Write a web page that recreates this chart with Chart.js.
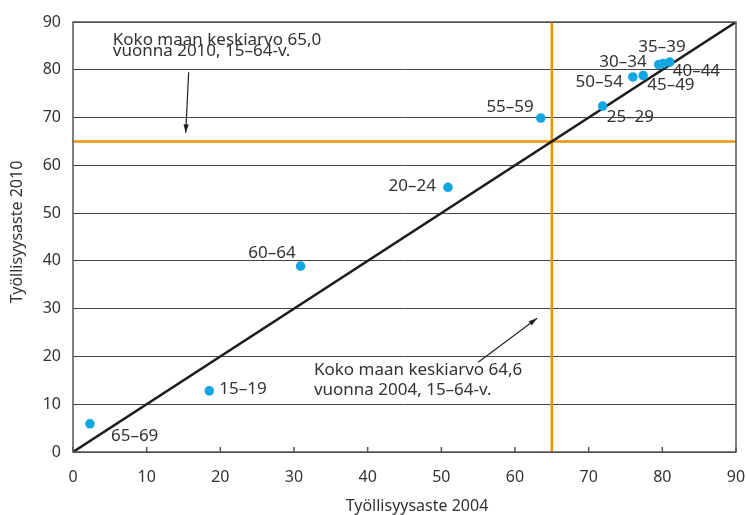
<!DOCTYPE html>
<html>
<head>
<meta charset="utf-8">
<script src="https://cdn.jsdelivr.net/npm/chart.js@4/dist/chart.umd.min.js"></script>
<style>
    body { margin: 0; background: #fff; }
    #wrap { width: 746px; height: 515px; }
</style>
</head>
<body>
<div id="wrap"><canvas id="employment_chart"></canvas></div>
<script>
// age groups and employment rates (%), 2004 vs 2010
const ageGroups = ["65–69", "15–19", "60–64", "20–24", "55–59", "25–29", "50–54", "45–49", "30–34", "35–39", "40–44"];
const rate2004 = [2.3, 18.5, 30.9, 50.9, 63.5, 71.9, 76.0, 77.4, 79.5, 80.1, 81.0];
const rate2010 = [5.9, 12.8, 38.9, 55.4, 69.9, 72.4, 78.5, 78.8, 81.1, 81.3, 81.6];

// national average lines (as drawn) and axis range
const avgLine2004 = 65;
const avgLine2010 = 65;
const axisMin = 0;
const axisMax = 90;
const tickValues = [0, 10, 20, 30, 40, 50, 60, 70, 80, 90];

const xTitle = "Työllisyysaste 2004";
const yTitle = "Työllisyysaste 2010";
const note2010 = ["Koko maan keskiarvo 65,0", "vuonna 2010, 15–64-v."];
const note2004 = ["Koko maan keskiarvo 64,6", "vuonna 2004, 15–64-v."];

// label placement next to each point (pixels)
const labelPlacement = {
    "65–69": { dx: 21, dy: 12, align: "left" },
    "15–19": { dx: 10, dy: -2, align: "left" },
    "60–64": { dx: -5, dy: -13, align: "right" },
    "20–24": { dx: -12, dy: -1, align: "right" },
    "55–59": { dx: -7, dy: -11, align: "right" },
    "25–29": { dx: 4, dy: 11, align: "left" },
    "50–54": { dx: -10, dy: 5, align: "right" },
    "45–49": { dx: 4, dy: 10, align: "left" },
    "30–34": { dx: -12, dy: -2, align: "right" },
    "35–39": { dx: -1, dy: -16, align: "center" },
    "40–44": { dx: 3, dy: 9, align: "left" }
};

const textColor = "#333";
const fontFamily = "'Noto Sans', 'Open Sans', sans-serif";

function drawArrow(ctx, x1, y1, x2, y2) {
    const ang = Math.atan2(y2 - y1, x2 - x1);
    ctx.beginPath();
    ctx.moveTo(x1, y1);
    ctx.lineTo(x2, y2);
    ctx.stroke();
    ctx.beginPath();
    ctx.moveTo(x2, y2);
    ctx.lineTo(x2 - 9 * Math.cos(ang - 0.3), y2 - 9 * Math.sin(ang - 0.3));
    ctx.lineTo(x2 - 9 * Math.cos(ang + 0.3), y2 - 9 * Math.sin(ang + 0.3));
    ctx.closePath();
    ctx.fill();
}

const decorPlugin = {
    id: "decor",
    afterDatasetsDraw(chart) {
        const ctx = chart.ctx;
        const xs = chart.scales.x;
        const ys = chart.scales.y;
        const area = chart.chartArea;
        ctx.save();

        // frame and inner ticks on x axis
        ctx.strokeStyle = "#555";
        ctx.lineWidth = 1.5;
        ctx.strokeRect(area.left, area.top, area.right - area.left, area.bottom - area.top);
        ctx.beginPath();
        tickValues.forEach(v => {
            const px = xs.getPixelForValue(v);
            ctx.moveTo(px, area.bottom);
            ctx.lineTo(px, area.bottom - 5);
        });
        ctx.stroke();

        // point labels
        const meta = chart.getDatasetMeta(0);
        ctx.fillStyle = textColor;
        ctx.font = "17px " + fontFamily;
        ctx.textBaseline = "middle";
        meta.data.forEach((pt, i) => {
            const p = labelPlacement[ageGroups[i]];
            ctx.textAlign = p.align;
            ctx.fillText(ageGroups[i], pt.x + p.dx, pt.y + p.dy);
        });

        // notes with arrows
        ctx.textAlign = "left";
        ctx.font = "17px " + fontFamily;
        ctx.fillText(note2010[0], xs.getPixelForValue(5.4), ys.getPixelForValue(86.3));
        ctx.fillText(note2010[1], xs.getPixelForValue(5.4), ys.getPixelForValue(83.8));
        ctx.fillText(note2004[0], xs.getPixelForValue(32.7), ys.getPixelForValue(17.1));
        ctx.fillText(note2004[1], xs.getPixelForValue(32.7), ys.getPixelForValue(13.0));

        ctx.strokeStyle = "#222";
        ctx.fillStyle = "#222";
        ctx.lineWidth = 1.2;
        drawArrow(ctx, xs.getPixelForValue(15.7), ys.getPixelForValue(79.5), xs.getPixelForValue(15.3), ys.getPixelForValue(66.8));
        drawArrow(ctx, xs.getPixelForValue(55.0), ys.getPixelForValue(18.8), xs.getPixelForValue(63.0), ys.getPixelForValue(28.0));

        // axis titles
        ctx.fillStyle = textColor;
        ctx.font = "16px " + fontFamily;
        ctx.textAlign = "center";
        ctx.fillText(xTitle, 417, 506);
        ctx.translate(17, 232);
        ctx.rotate(-Math.PI / 2);
        ctx.fillText(yTitle, 0, 0);
        ctx.restore();
    }
};

function drawEmploymentChart() {
    const points = ageGroups.map((g, i) => ({ x: rate2004[i], y: rate2010[i] }));

    new Chart(document.getElementById("employment_chart"), {
        type: "scatter",
        data: {
            datasets: [{
                label: "Ikäryhmät",
                data: points,
                backgroundColor: "#13a6e3",
                borderWidth: 0,
                pointRadius: 4.8,
                order: 0
            }, {
                label: "Tasa-arvoviiva",
                type: "line",
                data: [{ x: axisMin, y: axisMin }, { x: axisMax, y: axisMax }],
                borderColor: "#1e1e1e",
                borderWidth: 2.5,
                pointRadius: 0,
                order: 1
            }, {
                label: "Keskiarvo 2004",
                type: "line",
                data: [{ x: avgLine2004, y: axisMin }, { x: avgLine2004, y: axisMax }],
                borderColor: "#ee9200",
                borderWidth: 2.5,
                pointRadius: 0,
                order: 2
            }, {
                label: "Keskiarvo 2010",
                type: "line",
                data: [{ x: axisMin, y: avgLine2010 }, { x: axisMax, y: avgLine2010 }],
                borderColor: "#ee9200",
                borderWidth: 2.5,
                pointRadius: 0,
                order: 2
            }]
        },
        options: {
            responsive: true,
            maintainAspectRatio: false,
            animation: false,
            layout: { padding: { top: 22, right: 10, left: 0, bottom: 0 } },
            plugins: {
                legend: { display: false },
                tooltip: { enabled: false }
            },
            scales: {
                x: {
                    type: "linear",
                    min: axisMin,
                    max: axisMax,
                    afterFit: s => { s.height = 63; s.paddingLeft = 0; s.paddingRight = 0; },
                    afterBuildTicks: s => { s.ticks = tickValues.map(v => ({ value: v })); },
                    grid: { display: false },
                    border: { display: false },
                    ticks: { padding: 8, color: textColor, font: { family: fontFamily, size: 16 } }
                },
                y: {
                    type: "linear",
                    min: axisMin,
                    max: axisMax,
                    afterFit: s => { s.width = 73; s.paddingTop = 0; s.paddingBottom = 0; },
                    afterBuildTicks: s => { s.ticks = tickValues.map(v => ({ value: v })); },
                    grid: { color: "#444", lineWidth: 1, drawTicks: false },
                    border: { display: false },
                    ticks: { padding: 12, color: textColor, font: { family: fontFamily, size: 16 } }
                }
            }
        },
        plugins: [decorPlugin]
    });
}

document.addEventListener("DOMContentLoaded", drawEmploymentChart);
</script>
</body>
</html>
